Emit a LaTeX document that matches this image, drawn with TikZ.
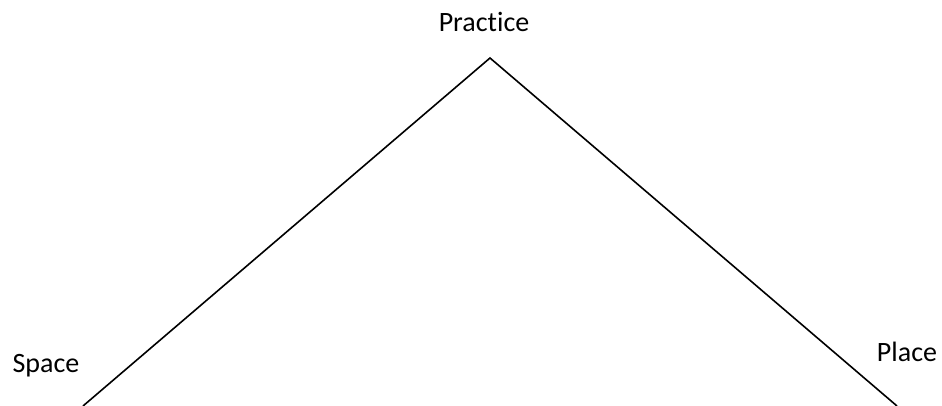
\documentclass[tikz,border=0pt]{standalone}
\usepackage{fontspec}
\setmainfont{Carlito}[Ligatures=NoCommon]
\begin{document}
\begin{tikzpicture}[x=1pt,y=-1pt,
  lbl/.style={font=\fontsize{28}{34}\selectfont, anchor=base, inner sep=0pt},
  edge/.style={draw=black, line width=1.6pt, line join=miter}]
\useasboundingbox (0,0) rectangle (942,406);
\coordinate (apex) at (490,58);
\coordinate (lend) at (83,406);
\coordinate (rend) at (897,406);
\node[lbl] (practice) at (484,32) {Practice};
\node[lbl] (space) at (46,372) {Space};
\node[lbl] (place) at (907,361) {Place};
\draw[edge] (lend) -- (apex) -- (rend);
\end{tikzpicture}
\end{document}
